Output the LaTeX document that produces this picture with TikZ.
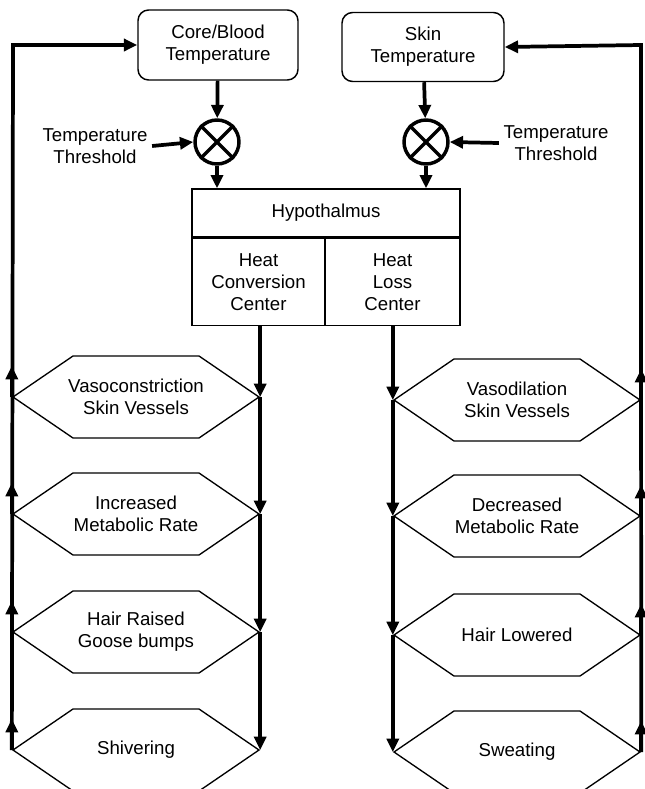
\documentclass[tikz,border=0pt]{standalone}
\usepackage{fontspec}
\setmainfont{Liberation Sans}
\usetikzlibrary{arrows.meta,shapes.symbols}
\newcommand{\Texte}{\fontsize{14pt}{16.5pt}\selectfont}

\begin{document}
\begin{tikzpicture}[x=0.75pt,y=-0.75pt,
	boite/.style={draw,line width=1.1pt,rounded corners=8pt,align=center,font=\Texte,inner sep=0pt},
	cadre/.style={draw,line width=1pt,align=center,font=\Texte,inner sep=0pt},
	hexa/.style={draw,line width=1pt,shape=signal,signal to=east and west,signal pointer angle=68.7,
		minimum width=184.5pt,minimum height=61.5pt,inner sep=0pt,
		label={[font=\Texte,align=center]center:#1}},
	somme/.style={draw,circle,line width=2.6pt,minimum size=33pt,inner sep=0pt},
	trait/.style={line width=2.8pt},
	fleche/.style={trait,-{Triangle[length=10pt,width=9pt]}}]
	\useasboundingbox (0,0) rectangle (645,789);
	\clip (0,0) rectangle (645,789);
	
	%Capteurs
	\node[boite,minimum width=120pt,minimum height=52.5pt] (core) at (218,45) {Core/Blood\\Temperature};
	\node[boite,minimum width=121.5pt,minimum height=51.75pt] (skin) at (423,47) {Skin\\Temperature};
	
	%Comparateurs
	\node[somme] (sumL) at (217,142) {};
	\node[somme] (sumR) at (426,142) {};
	\foreach \s in {sumL,sumR}{
		\draw[line width=2.6pt] (\s.45) -- (\s.225) (\s.135) -- (\s.315);
	}
	\node[align=center,font=\Texte] (thrL) at (95,146) {Temperature\\Threshold};
	\node[align=center,font=\Texte] (thrR) at (556,143) {Temperature\\Threshold};
	
	%Hypothalamus
	\node[cadre,minimum width=201pt,minimum height=36pt] (hypo) at (326,213) {Hypothalmus};
	\node[cadre,minimum width=99.75pt,minimum height=65.25pt,anchor=north west] (hcc) at (hypo.south west) {Heat\\Conversion\\Center};
	\node[cadre,minimum width=101.25pt,minimum height=65.25pt,anchor=north east] (hlc) at (hypo.south east) {Heat\\Loss\\Center};
	
	%Effecteurs
	\node[hexa={Vasoconstriction\\Skin Vessels}] (vaso) at (136,397) {};
	\node[hexa={Increased\\Metabolic Rate}] (incr) at (136,514) {};
	\node[hexa={Hair Raised\\Goose bumps}] (hair) at (136,632) {};
	\node[hexa={Shivering}] (shiv) at (136,750) {};
	\node[hexa={Vasodilation\\Skin Vessels}] (vdil) at (517,400) {};
	\node[hexa={Decreased\\Metabolic Rate}] (decr) at (517,516) {};
	\node[hexa={Hair Lowered}] (hlow) at (517,635) {};
	\node[hexa={Sweating}] (swea) at (517,752) {};
	
	\coordinate (coinG) at (13,45);
	\coordinate (coinD) at (641,45);
	
	%Fleches du haut
	\draw[fleche] (core) -- (sumL);
	\draw[fleche] (skin) -- (sumR);
	\draw[fleche] (thrL.east) -- (sumL.west);
	\draw[fleche] (thrR.west) -- (sumR.east);
	\draw[fleche] (sumL) -- (sumL |- hypo.north);
	\draw[fleche] (sumR) -- (sumR |- hypo.north);
	
	%Descentes
	\draw[fleche] (hcc.south -| vaso.east) -- (vaso.east);
	\draw[fleche] (vaso.east) -- (incr.east);
	\draw[fleche] (incr.east) -- (hair.east);
	\draw[fleche] (hair.east) -- (shiv.east);
	\draw[fleche] (hlc.south -| vdil.west) -- (vdil.west);
	\draw[fleche] (vdil.west) -- (decr.west);
	\draw[fleche] (decr.west) -- (hlow.west);
	\draw[fleche] (hlow.west) -- (swea.west);
	
	%Retours
	\draw[fleche] (shiv.west) -- (coinG) -- (core.west);
	\draw[fleche] (swea.east) -- (coinD) -- (skin.east);
	\foreach \h in {vaso,incr,hair,shiv}{
		\draw[fleche] (\h.west) -- ++(0,-31);
	}
	\foreach \h in {vdil,decr,hlow,swea}{
		\draw[fleche] (\h.east) -- ++(0,-31);
	}
	
\end{tikzpicture}
\end{document}
